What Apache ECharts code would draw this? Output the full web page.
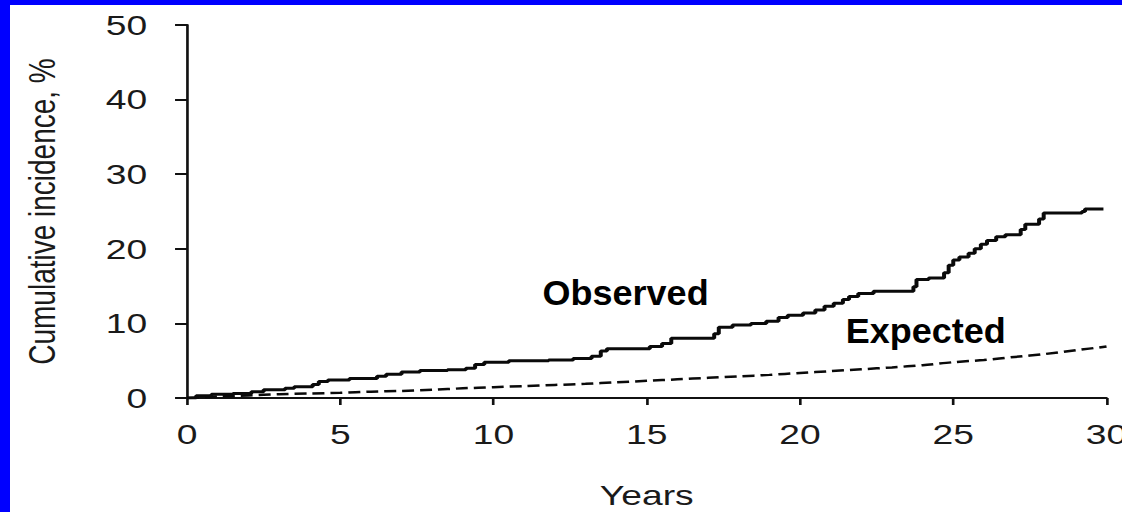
<!DOCTYPE html>
<html><head><meta charset="utf-8">
<script src="https://cdn.jsdelivr.net/npm/echarts@6/dist/echarts.min.js"></script>
<style>
html,body{margin:0;padding:0;overflow:hidden;background:#fff;}
#wrap{position:absolute;left:0;top:0;width:1122px;height:512px;overflow:hidden;background:#fff;}
#chart{position:absolute;left:0;top:0;width:844px;height:512px;transform:scaleX(1.3294);transform-origin:0 0;overflow:hidden;}
.bl{position:absolute;left:0;top:0;width:10px;height:512px;background:#0000ff;}
.bt{position:absolute;left:0;top:0;width:1122px;height:5px;background:#0000ff;}
</style></head>
<body><div id="wrap"><div id="chart"></div><div class="bl"></div><div class="bt"></div></div>
<script>
// ---- data ----
const xTicks = [0, 5, 10, 15, 20, 25, 30];
const yTicks = [0, 10, 20, 30, 40, 50];
const xTitle = 'Years';
const yTitle = 'Cumulative incidence, %';
// Observed cumulative incidence: [year, % after the step]
const observed = [[0,0],[0.3,0.3],[0.8,0.5],[1.5,0.6],[2.1,0.85],[2.5,1.1],[3.2,1.3],[3.5,1.5],[4.1,1.8],[4.3,2.2],[4.6,2.4],[5.3,2.6],[6.2,2.9],[6.5,3.2],[7.0,3.5],[7.6,3.7],[8.5,3.8],[9.1,4.0],[9.4,4.5],[9.7,4.8],[10.5,5.0],[11.8,5.1],[12.6,5.3],[13.2,5.6],[13.5,6.3],[13.7,6.6],[15.1,6.9],[15.5,7.3],[15.8,8.0],[17.2,8.6],[17.35,9.5],[17.8,9.8],[18.4,10.0],[18.9,10.3],[19.3,10.8],[19.6,11.1],[20.1,11.4],[20.5,11.8],[20.8,12.3],[21.1,12.7],[21.4,13.2],[21.6,13.6],[21.9,14.0],[22.4,14.3],[23.7,14.9],[23.8,15.9],[24.2,16.1],[24.7,16.8],[24.85,17.8],[25.0,18.5],[25.2,18.9],[25.5,19.4],[25.7,20.0],[25.9,20.6],[26.1,21.1],[26.4,21.6],[26.7,21.9],[27.2,22.6],[27.35,23.3],[27.8,24.0],[27.95,24.8],[29.2,25.0],[29.3,25.35],[29.9,25.35]];
// Expected cumulative incidence
const expectedYears = [0,1,2,3,4,5,6,7,8,9,10,11,12,13,14,15,16,17,18,19,20,21,22,23,24,25,26,27,28,29,30];
const expectedVals  = [0,0.2,0.35,0.5,0.6,0.7,0.85,0.95,1.1,1.3,1.45,1.6,1.75,1.9,2.1,2.3,2.5,2.7,2.9,3.1,3.35,3.6,3.85,4.1,4.4,4.8,5.1,5.5,5.9,6.4,6.9];
const annotations = [{text:'Observed', at:[14.31, 14.1]}, {text:'Expected', at:[24.1, 9.0]}];

// ---- chart ----
const S = 1122/844;
const FONT = 'Liberation Sans, Arial, sans-serif';
const chart = echarts.init(document.getElementById('chart'), null, {renderer:'svg', width:844, height:512});
const expected = expectedYears.map((x,i)=>[x, expectedVals[i]]);
const option = {
  animation:false,
  backgroundColor:'#ffffff',
  grid:{left:187/S, right:844-1106.5/S, top:25, bottom:114, containLabel:false, outerBoundsMode:'none'},
  xAxis:{type:'value', min:0, max:30, interval:5,
    name:xTitle, nameLocation:'middle', nameGap:83,
    nameTextStyle:{fontSize:28, fontFamily:FONT, color:'#1a1a1a'},
    axisLine:{show:true, onZero:false, lineStyle:{color:'#111', width:2}},
    axisTick:{show:true, inside:false, length:7, lineStyle:{color:'#111', width:2}},
    axisLabel:{fontSize:28, fontFamily:FONT, color:'#1a1a1a', margin:22,
      formatter:v=> xTicks.includes(v) ? String(v) : ''},
    splitLine:{show:false}},
  yAxis:{type:'value', min:0, max:50, interval:10,
    name:yTitle, nameLocation:'middle', nameGap:95, nameRotate:90,
    nameTextStyle:{fontSize:28, fontFamily:FONT, color:'#1a1a1a'},
    axisLine:{show:true, onZero:false, lineStyle:{color:'#111', width:2}},
    axisTick:{show:true, inside:false, length:9, lineStyle:{color:'#111', width:2}},
    axisLabel:{fontSize:28, fontFamily:FONT, color:'#1a1a1a', margin:30,
      formatter:v=> yTicks.includes(v) ? String(v) : ''},
    splitLine:{show:false}},
  series:[
    {name:'Observed', type:'line', step:'end', data:observed, showSymbol:false, symbol:'none',
      lineStyle:{color:'#0a0a0a', width:3}, z:3},
    {name:'Expected', type:'line', data:expected, showSymbol:false, symbol:'none', smooth:0.3,
      lineStyle:{color:'#0a0a0a', width:2.5, type:[9,4.5]}, z:2}
  ]
};
chart.setOption(option);
const g = annotations.map(a=>{
  const p = chart.convertToPixel({gridIndex:0}, a.at);
  return {type:'text', x:p[0], y:p[1], scaleX:1/S, scaleY:1, z:10,
    style:{text:a.text, fontSize:36, fontWeight:'bold', fontFamily:FONT, fill:'#000',
      align:'center', verticalAlign:'middle'}};
});
chart.setOption({graphic:g});
</script></body></html>
